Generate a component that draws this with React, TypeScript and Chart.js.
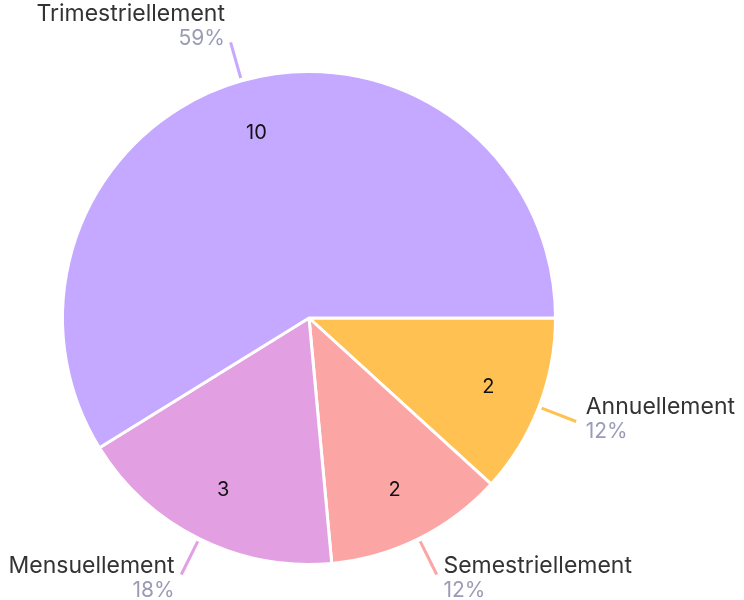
import React, { useEffect, useRef } from "react";
import { Chart, registerables } from "chart.js";

Chart.register(...registerables);

const categories = ["Annuellement", "Semestriellement", "Mensuellement", "Trimestriellement"];
const values = [2, 2, 3, 10];
const colors = ["#FFC152", "#FCA5A5", "#E2A0E2", "#C5A8FF"];

const FONT = "Inter, 'Noto Sans', sans-serif";

const pieLabels = {
  id: "pieLabels",
  afterDatasetsDraw(chart: any) {
    const ctx = chart.ctx;
    const meta = chart.getDatasetMeta(0);
    const data = chart.data.datasets[0].data as number[];
    const total = data.reduce((a, b) => a + b, 0);
    meta.data.forEach((arc: any, i: number) => {
      const { x, y, startAngle, endAngle, outerRadius } = arc.getProps(
        ["x", "y", "startAngle", "endAngle", "outerRadius"],
        true
      );
      const mid = (startAngle + endAngle) / 2;
      const c = Math.cos(mid);
      const s = Math.sin(mid);
      ctx.save();
      // value inside
      ctx.fillStyle = "#111111";
      ctx.font = `400 20px ${FONT}`;
      ctx.textAlign = "center";
      ctx.textBaseline = "middle";
      const ir = outerRadius * 0.78;
      ctx.fillText(String(data[i]), x + c * ir, y + s * ir);
      // leader line
      const r1 = outerRadius + 3;
      const r2 = outerRadius + 40;
      const ex = x + c * r2;
      const ey = y + s * r2;
      ctx.strokeStyle = colors[i];
      ctx.lineWidth = 3;
      ctx.beginPath();
      ctx.moveTo(x + c * r1, y + s * r1);
      ctx.lineTo(ex, ey);
      ctx.stroke();
      // label
      const right = c >= 0;
      const gap = 4 + 6 * Math.abs(c);
      const tx = right ? ex + gap : ex - gap;
      const centerY = ey - 7 + 11 * s;
      ctx.textAlign = right ? "left" : "right";
      ctx.textBaseline = "alphabetic";
      ctx.fillStyle = "#333333";
      ctx.font = `400 23px ${FONT}`;
      ctx.fillText(categories[i], tx, centerY - 4);
      ctx.fillStyle = "#9C9BB6";
      ctx.font = `400 21px ${FONT}`;
      const pct = Math.round((data[i] / total) * 100) + "%";
      ctx.fillText(pct, tx, centerY + 20);
      ctx.restore();
    });
  },
};

export default function App() {
  const ref = useRef<HTMLCanvasElement>(null);
  useEffect(() => {
    if (!ref.current) return;
    const chart = new Chart(ref.current, {
      type: "pie",
      data: {
        labels: categories,
        datasets: [
          {
            data: values,
            backgroundColor: colors,
            borderColor: "#ffffff",
            borderWidth: 3,
          },
        ],
      },
      options: {
        animation: false,
        responsive: true,
        maintainAspectRatio: false,
        rotation: 90,
        layout: { padding: { left: 61, top: 70, right: 187, bottom: 34 } },
        plugins: {
          legend: { display: false },
          tooltip: { enabled: false },
        },
      },
      plugins: [pieLabels],
    });
    return () => chart.destroy();
  }, []);
  return (
    <div style={{ position: "fixed", left: 0, top: 0, width: 744, height: 600, background: "#fff" }}>
      <canvas ref={ref} />
    </div>
  );
}
